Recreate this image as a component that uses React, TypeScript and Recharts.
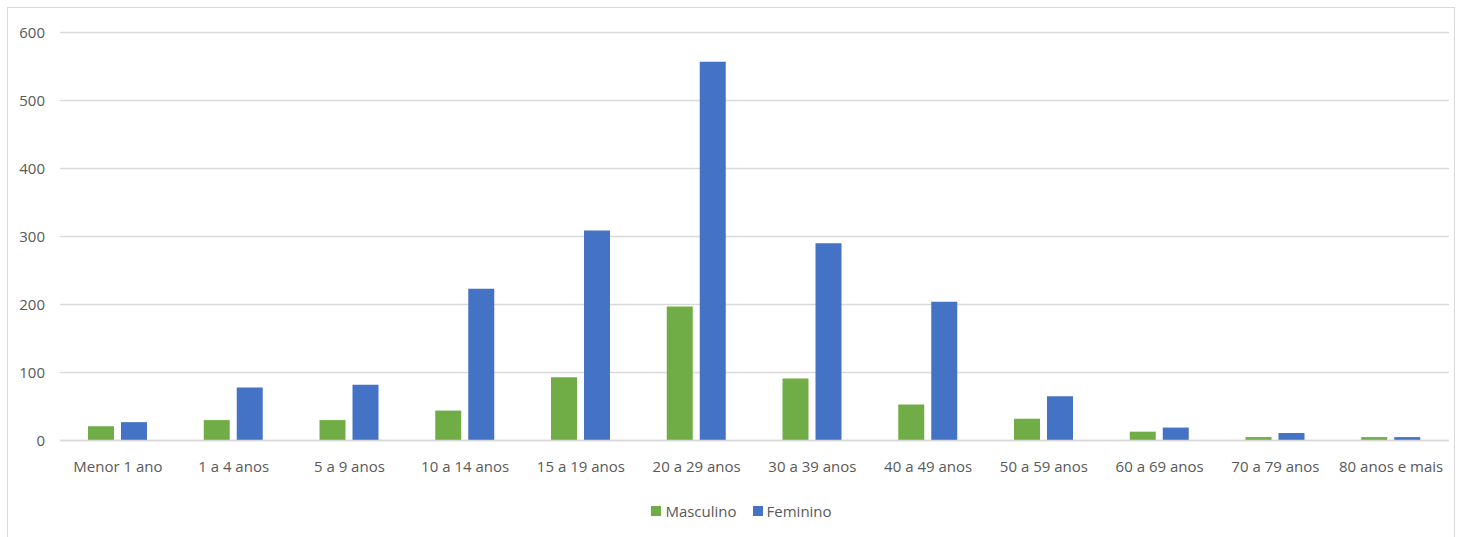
import React from 'react';
import { BarChart, Bar, XAxis, YAxis, CartesianGrid, Legend } from 'recharts';

const categories = [
  'Menor 1 ano', '1 a 4 anos', '5 a 9 anos', '10 a 14 anos', '15 a 19 anos', '20 a 29 anos',
  '30 a 39 anos', '40 a 49 anos', '50 a 59 anos', '60 a 69 anos', '70 a 79 anos', '80 anos e mais',
];
const masculino = [21, 30, 30, 44, 93, 197, 91, 53, 32, 13, 5, 5];
const feminino = [27, 78, 82, 223, 309, 557, 290, 204, 65, 19, 11, 5];
const yTicks = [0, 100, 200, 300, 400, 500, 600];

const GREEN = '#70AD47';
const BLUE = '#4472C4';
const TEXT = '#595959';
const GRID = '#D9D9D9';
const FONT = '"Open Sans", sans-serif';

const data = categories.map((name, i) => ({
  name,
  Masculino: masculino[i],
  Feminino: feminino[i],
}));

// legend drawn like the Excel one: small squares, text close to them
const LegendContent = () => (
  <div style={{ display: 'flex', justifyContent: 'center', alignItems: 'center', height: 20, fontFamily: FONT, fontSize: 15, color: TEXT }}>
    <span style={{ width: 10, height: 10, background: GREEN, display: 'inline-block', marginRight: 4 }} />
    <span style={{ marginRight: 16 }}>Masculino</span>
    <span style={{ width: 10, height: 10, background: BLUE, display: 'inline-block', marginRight: 4 }} />
    <span>Feminino</span>
  </div>
);

export default function App() {
  return (
    <div
      style={{
        position: 'absolute',
        left: 7,
        top: 7,
        width: 1448,
        height: 540,
        border: `1px solid ${GRID}`,
        boxSizing: 'border-box',
        background: '#fff',
      }}
    >
      <BarChart
        width={1446}
        height={538}
        data={data}
        margin={{ top: 24.5, right: 5, left: 0, bottom: 45.5 }}
        barCategoryGap="24%"
        barGap={7}
      >
        <CartesianGrid vertical={false} stroke={GRID} strokeWidth={1.5} />
        <XAxis
          dataKey="name"
          height={40}
          tickLine={false}
          tickSize={0}
          tickMargin={21}
          axisLine={{ stroke: GRID, strokeWidth: 1.5 }}
          interval={0}
          tick={{ fill: TEXT, fontSize: 15, fontFamily: FONT }}
        />
        <YAxis
          width={52}
          domain={[0, 600]}
          ticks={yTicks}
          axisLine={false}
          tickLine={false}
          tickSize={0}
          tickMargin={15}
          tick={{ fill: TEXT, fontSize: 15, fontFamily: FONT }}
        />
        <Legend
          content={<LegendContent />}
          verticalAlign="bottom"
          wrapperStyle={{ top: 493, bottom: 'auto', left: 0, width: 1467, height: 20 }}
        />
        <Bar dataKey="Masculino" fill={GREEN} barSize={26} isAnimationActive={false} />
        <Bar dataKey="Feminino" fill={BLUE} barSize={26} isAnimationActive={false} />
      </BarChart>
    </div>
  );
}
